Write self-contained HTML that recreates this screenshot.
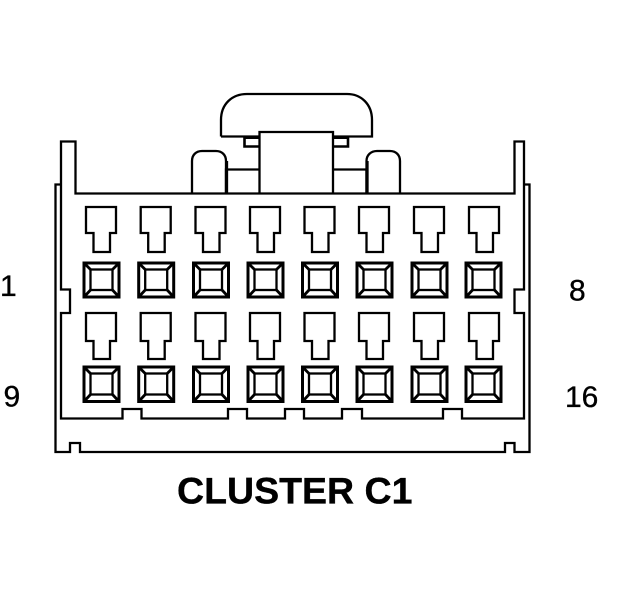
<!DOCTYPE html>
<html>
<head>
<meta charset="utf-8">
<style>
html,body{margin:0;padding:0;background:#fff;width:624px;height:600px;overflow:hidden}
svg{display:block}
text{font-family:"Liberation Sans",Arial,sans-serif;fill:#000;stroke:#000;stroke-width:.35px}
.l{fill:none;stroke:#000;stroke-width:2.300;stroke-linejoin:miter}
</style>
</head>
<body>
<svg width="624" height="600" viewBox="0 0 624 600" xmlns="http://www.w3.org/2000/svg">
<defs>
<g id="t1" class="l"><path d="M86 207H116V233H110V252H93.500V233H86Z"/></g>
<g id="t2" class="l"><path d="M86 313H116V341H110V359H93.500V341H86Z"/></g>
<g id="s1" class="l">
<rect x="84" y="263" width="35" height="34" stroke-width="3"/>
<rect x="90.500" y="269.500" width="22" height="20.500"/>
<path d="M84 263L90.500 269.500M119 263L112.500 269.500M84 297L90.500 290M119 297L112.500 290" stroke-width="2.800"/>
</g>
<g id="s2" class="l">
<rect x="84" y="367" width="35" height="34.500" stroke-width="3"/>
<rect x="90.500" y="373.500" width="22" height="21"/>
<path d="M84 367L90.500 373.500M119 367L112.500 373.500M84 401.500L90.500 394.500M119 401.500L112.500 394.500" stroke-width="2.800"/>
</g>
</defs>

<!-- top latch -->
<path class="l" d="M221 136.500V120C221 104 232 94 247 94H347C361 94 372 104 372 120V136.500H333M221 136.500H259"/>
<path class="l" d="M259.500 193.500V132H333V193.500"/>
<path class="l" style="stroke-width:2.600" d="M244.500 137V146.500H259M348 137V146.500H333"/>
<path d="M245 136H259V139H245ZM333 136H347V139H333Z" fill="#000"/>
<path class="l" d="M192 193.500V161C192 155 196 151 202 151H216C222 151 226 155 226 161V193.500"/>
<path class="l" d="M366.500 193.500V161C366.500 155 371 151 377 151H390C396 151 400 155 400 161V193.500"/>
<path class="l" d="M226 193.500V169.500H259M366.500 193.500V169.500H333"/>
<path class="l" d="M227 161V193M367.500 161V193"/>

<!-- body -->
<path class="l" d="M75.500 141.500H61V289.500H70V313H61V418.500H122.500V409H141.500V418.500H228V409H247V418.500H285V409H304V418.500H342V409H362V418.500H443V409H462V418.500H524V313H514.500V289.500H524V141.500H514.500V193.500H75.500Z"/>
<path class="l" d="M61 184.500H55.500V452H70V443H80V452H505V443H514.500V452H529.500V184.500H524"/>

<!-- terminals row 1 -->
<use href="#t1"/><use href="#t1" x="54.700"/><use href="#t1" x="109.500"/><use href="#t1" x="164"/><use href="#t1" x="218.500"/><use href="#t1" x="273"/><use href="#t1" x="328"/><use href="#t1" x="383"/>
<use href="#s1"/><use href="#s1" x="54.700"/><use href="#s1" x="109.500"/><use href="#s1" x="164"/><use href="#s1" x="218.500"/><use href="#s1" x="273"/><use href="#s1" x="328"/><use href="#s1" x="382"/>
<!-- terminals row 2 -->
<use href="#t2"/><use href="#t2" x="54.700"/><use href="#t2" x="109.500"/><use href="#t2" x="164"/><use href="#t2" x="218.500"/><use href="#t2" x="273"/><use href="#t2" x="328"/><use href="#t2" x="383"/>
<use href="#s2"/><use href="#s2" x="54.700"/><use href="#s2" x="109.500"/><use href="#s2" x="164"/><use href="#s2" x="218.500"/><use href="#s2" x="273"/><use href="#s2" x="328"/><use href="#s2" x="382"/>

<!-- labels -->
<text x="0" y="296" font-size="30">1</text>
<text x="569" y="300.500" font-size="30">8</text>
<text x="3.500" y="406.500" font-size="30">9</text>
<text x="565" y="407" font-size="30">16</text>
<text x="177" y="503.500" font-size="37.500" font-weight="700">CLUSTER C1</text>
</svg>
</body>
</html>
